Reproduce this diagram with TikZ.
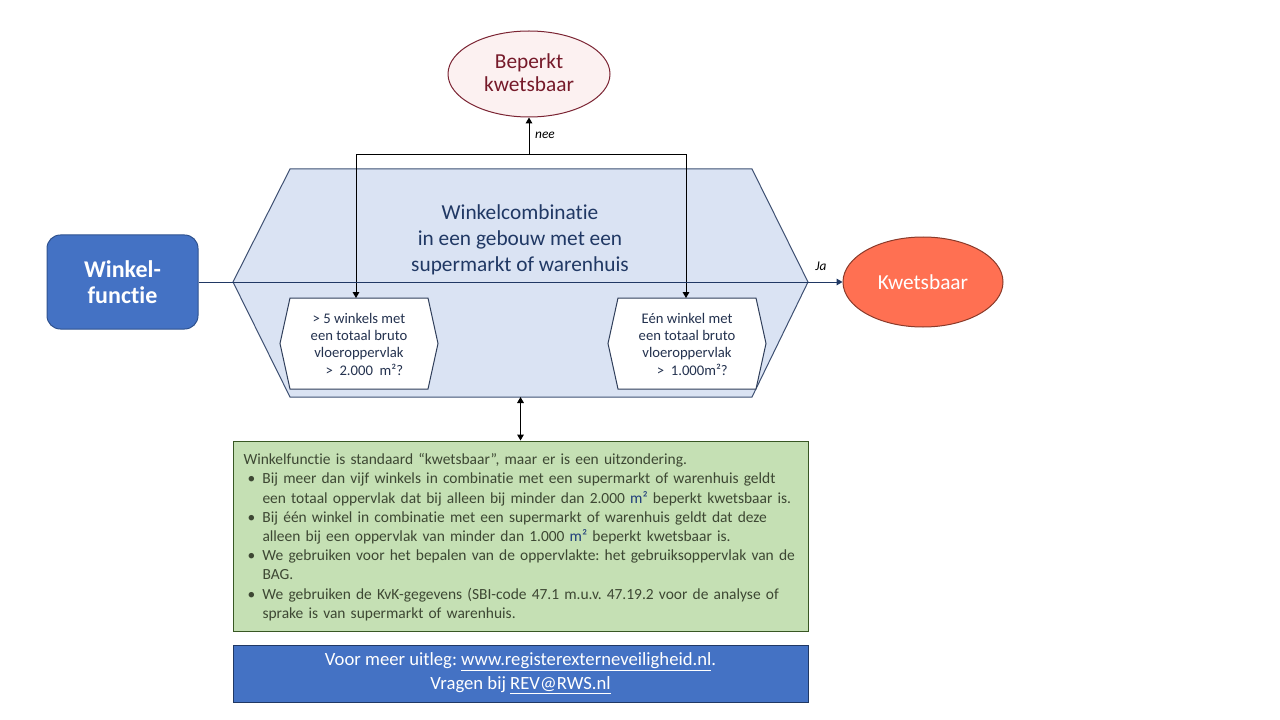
\documentclass[tikz,border=0pt]{standalone}
\usepackage{fontspec}
\setmainfont{Carlito}[Ligatures=NoCommon]
\usetikzlibrary{arrows.meta,shapes.geometric}
\definecolor{bluefill}{HTML}{4472C4}
\definecolor{bluedraw}{HTML}{2F528F}
\definecolor{footdraw}{HTML}{203864}
\definecolor{hexfill}{HTML}{DAE3F3}
\definecolor{hexdraw}{HTML}{3E5072}
\definecolor{navy}{HTML}{203864}
\definecolor{qdraw}{HTML}{2F3E5A}
\definecolor{qtext}{HTML}{24324F}
\definecolor{coral}{HTML}{FF7052}
\definecolor{kwdraw}{HTML}{8A3A2A}
\definecolor{bkfill}{HTML}{FCF1F1}
\definecolor{bkdraw}{HTML}{7B2433}
\definecolor{bktext}{HTML}{761A2A}
\definecolor{greenfill}{HTML}{C5E0B4}
\definecolor{greendraw}{HTML}{385723}
\definecolor{greentext}{HTML}{3D4733}
\definecolor{mblue}{HTML}{1F3D7A}
\newcommand\msq{{\color{mblue}m²}}
\newcommand\bul{\leavevmode\hangindent=14.25pt\hangafter=1\makebox[14.25pt][l]{\hspace{3pt}•}}
\frenchspacing
\begin{document}
\begin{tikzpicture}[x=0.75pt,y=-0.75pt,
  line width=0.75pt,
  every node/.style={inner sep=0pt},
  hexshape/.style={fill=hexfill, draw=hexdraw, line width=0.75pt},
  qbox/.style={fill=white, draw=qdraw, line width=0.75pt},
  qtext/.style={align=center, text=qtext, font=\fontsize{11}{13}\selectfont},
  blk/.style={draw=black, line width=0.75pt},
  tip/.style={-{Triangle[length=4.5pt,width=5pt]}},
  dtip/.style={{Triangle[length=4.5pt,width=5pt]}-{Triangle[length=4.5pt,width=5pt]}},
  lbl/.style={font=\itshape\fontsize{10}{12}\selectfont},
  wide/.style={minimum width=431.25pt},
]
\useasboundingbox (0,0) rectangle (1280,720);

% big hexagon
\draw[hexshape] (290,169) -- (752,169) -- (808,282) -- (752,397) -- (290,397) -- (233,282) -- cycle;
\node[align=center, text=navy, font=\fontsize{16}{19.5}\selectfont] (hextext) at (520,240)
  {Winkelcombinatie\\in een gebouw met een\\supermarkt of warenhuis};

% question boxes
\draw[qbox] (290,298) -- (428,298) -- (438,343.5) -- (428,389) -- (290,389) -- (280,343.5) -- cycle;
\node[qtext] (q1) at (359,344) {> 5 winkels met\\een totaal bruto\\vloeroppervlak\\\hspace*{8pt}>\ \ 2.000\ \ m²?};
\draw[qbox] (618,298) -- (756,298) -- (766,343.5) -- (756,389) -- (618,389) -- (608,343.5) -- cycle;
\node[qtext] (q2) at (687,344) {Eén winkel met\\een totaal bruto\\vloeroppervlak\\\hspace*{8pt}>\ \ 1.000m²?};

% nodes
\node[rectangle, rounded corners=10pt, draw=bluedraw, fill=bluefill, minimum width=113.25pt,
  minimum height=70.5pt, text=white, align=center, font=\bfseries\fontsize{18}{19.5}\selectfont]
  (wf) at (122.5,282) {Winkel-\\functie};
\node[ellipse, draw=bkdraw, fill=bkfill, minimum width=121.5pt, minimum height=64.5pt,
  text=bktext, align=center, font=\fontsize{16}{19.5}\selectfont] (bk) at (529,74) {\raisebox{2pt}{\shortstack{Beperkt\\[1pt]kwetsbaar}}};
\node[ellipse, draw=kwdraw, fill=coral, minimum width=120pt, minimum height=67.5pt,
  text=white, font=\fontsize{16}{19.5}\selectfont] (kw) at (923,282) {Kwetsbaar};

% connectors
\coordinate (q1top) at (356,298);
\coordinate (q2top) at (686,298);
\coordinate (join) at (529,155);
\coordinate (lc) at (356,155);
\coordinate (rc) at (686,155);
\draw[blk, tip] (join) -- (bk.south);
\draw[blk, tip] (join) -- (lc) -- (q1top);
\draw[blk, tip] (join) -- (rc) -- (q2top);
\draw[draw=navy, tip] (wf.east) -- (kw.west);
\node[lbl] (ja) at (821,266) {Ja};
\node[lbl] (nee) at (545,135) {nee};

% info box
\node[wide, draw=greendraw, fill=greenfill, minimum height=142.5pt] (info) at (520.5,536) {};
\coordinate (hexbot) at (520.5,397);
\draw[blk, dtip] (hexbot) -- (info.north);
\node[anchor=north west, text width=430pt, align=left, text=greentext,
  font=\fontsize{11.6}{14.4}\selectfont] (infotext) at (243,453)
  {Winkelfunctie is standaard “kwetsbaar”, maar er is een uitzondering.\par
   \bul Bij meer dan vijf winkels in combinatie met een supermarkt of warenhuis geldt\newline een totaal oppervlak dat bij alleen bij minder dan 2.000 \msq\ beperkt kwetsbaar is.\par
   \bul Bij één winkel in combinatie met een supermarkt of warenhuis geldt dat deze\newline alleen bij een oppervlak van minder dan 1.000 \msq\ beperkt kwetsbaar is.\par
   \bul We gebruiken voor het bepalen van de oppervlakte: het gebruiksoppervlak van de\newline BAG.\par
   \bul We gebruiken de KvK-gegevens (SBI-code 47.1 m.u.v. 47.19.2 voor de analyse of\newline sprake is van supermarkt of warenhuis.\par};

% footer
\node[wide, draw=footdraw, fill=bluefill, minimum height=42.75pt, text=white, align=center,
  font=\fontsize{14}{18}\selectfont] (foot) at (520.5,673.5)
  {Voor meer uitleg: \underline{www.registerexterneveiligheid.nl}.\\Vragen bij \underline{REV@RWS.nl}};
\end{tikzpicture}
\end{document}
